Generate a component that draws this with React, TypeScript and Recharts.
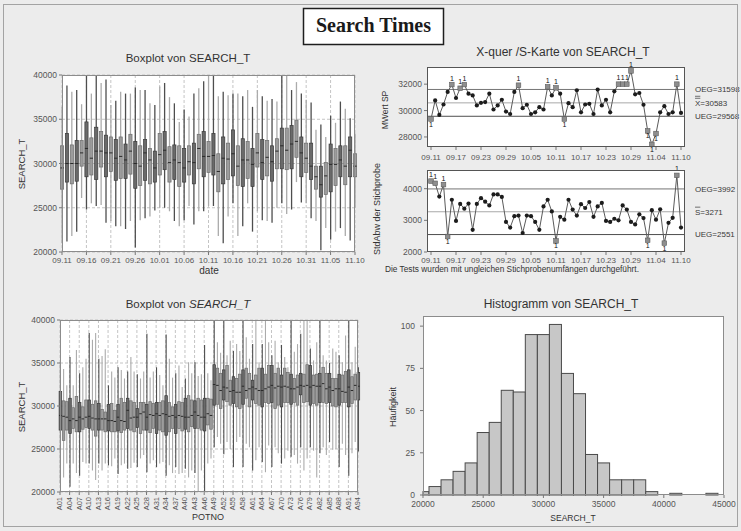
import React from 'react';
import { BarChart, LineChart, Bar, Line, XAxis, YAxis, CartesianGrid, ReferenceLine } from 'recharts';

// ---- day groups (09.11 – 11.10) ----
const dates = [
  '09.11', '09.12', '09.13', '09.14', '09.15', '09.16', '09.17', '09.18', '09.19', '09.20',
  '09.21', '09.22', '09.23', '09.24', '09.25', '09.26', '09.27', '09.28', '09.29', '09.30',
  '10.01', '10.02', '10.03', '10.04', '10.05', '10.06', '10.07', '10.08', '10.09', '10.10',
  '10.11', '10.12', '10.13', '10.14', '10.15', '10.16', '10.17', '10.18', '10.19', '10.20',
  '10.21', '10.22', '10.23', '10.24', '10.25', '10.26', '10.27', '10.28', '10.29', '10.30',
  '10.31', '11.01', '11.02', '11.03', '11.04', '11.05', '11.06', '11.07', '11.08', '11.09',
  '11.10',
];
const dateTicks = [0, 5, 10, 15, 20, 25, 30, 35, 40, 45, 50, 55, 60];

const dayLow = [
  21000, 21200, 21800, 22300, 26100, 24800, 25500, 25200, 25300, 23300,
  23500, 22900, 22900, 22600, 23500, 20500, 23600, 23800, 24000, 24700,
  25000, 25000, 24600, 23500, 22900, 23600, 25200, 23100, 24600, 24600,
  25200, 25200, 21800, 21000, 24000, 25500, 21800, 22900, 25500, 22300,
  24600, 23600, 23500, 23300, 25000, 25500, 24300, 24800, 27900, 25600,
  25500, 23800, 23500, 20200, 22700, 21400, 22300, 22700, 21800, 21300,
  25000,
];
const dayQ1 = [
  27100, 27900, 27700, 28000, 29700, 28500, 28700, 28200, 29600, 28500,
  29100, 28100, 28300, 28300, 28800, 27200, 27500, 28100, 27700, 27900,
  28700, 29300, 27900, 28200, 27400, 27900, 28700, 27700, 29400, 28500,
  29000, 28700, 26800, 27700, 28200, 28600, 27500, 27400, 28300, 27400,
  29600, 28200, 28600, 28000, 29400, 29400, 29300, 29400, 30700, 28500,
  29000, 28200, 27100, 26200, 26500, 26800, 27500, 28500, 27600, 28500,
  28500,
];
const dayMed = [
  29500, 30000, 30000, 30000, 31200, 31700, 30600, 31400, 31400, 31200,
  31200, 30600, 30800, 30400, 31400, 30000, 29700, 31200, 30400, 29500,
  31000, 31500, 30100, 30400, 30100, 29500, 30200, 30100, 31700, 30800,
  30800, 30900, 29100, 30600, 30500, 31100, 29700, 30400, 30400, 29900,
  31200, 30100, 30700, 30200, 31400, 32000, 31500, 32200, 32500, 31200,
  30600, 29700, 28500, 27600, 28600, 29900, 29900, 30400, 29700, 31500,
  29700,
];
const dayQ3 = [
  32000, 33400, 32100, 32600, 32600, 34700, 32900, 34100, 33600, 33200,
  33000, 32700, 33000, 32200, 33300, 32500, 32000, 32700, 31700, 31400,
  33400, 33600, 31900, 32100, 32000, 31700, 32000, 32300, 33300, 33600,
  32500, 33400, 31100, 33000, 32300, 33800, 32000, 32800, 32500, 31700,
  33400, 32700, 32600, 32000, 32800, 34000, 34000, 34300, 34900, 33000,
  32300, 32300, 29700, 29700, 30100, 32200, 31700, 32000, 32000, 33000,
  31100,
];
const dayHigh = [
  36400, 38800, 38100, 38300, 36700, 40000, 37900, 40000, 39100, 39500,
  36600, 37100, 38100, 37900, 37900, 38600, 38300, 38300, 36800, 36600,
  38700, 39100, 37500, 36800, 34700, 36100, 35300, 37900, 38500, 39300,
  40000, 40000, 37600, 38100, 37700, 37900, 37900, 37600, 38300, 36400,
  38300, 37600, 37100, 37300, 37000, 40000, 40000, 38300, 39200, 37900,
  37200, 36900, 33800, 34400, 33000, 35400, 34600, 37000, 36200, 35100,
  33400,
];

// ---- X-bar / S control chart ----
const xbarMeans = [
  29360, 30770, 29670, 30460, 31410, 31970, 30950, 31690, 31970, 31280,
  31150, 30390, 30590, 30640, 31280, 30080, 30390, 30820, 29920, 29740,
  31410, 31920, 30180, 30440, 29740, 29870, 30260, 30080, 31800, 31150,
  31720, 31280, 29360, 30560, 30260, 31540, 29870, 30460, 30510, 29740,
  31590, 30390, 30820, 29870, 31460, 32000, 32000, 32000, 33000, 31230,
  31330, 30440, 28460, 27440, 28260, 29870, 30330, 29740, 29870, 32000,
  29820,
];
const sampleSd = [
  4240, 4170, 3750, 4130, 2490, 3650, 2980, 3520, 3370, 3530,
  2700, 3520, 3700, 3590, 3470, 3820, 3820, 3740, 2950, 2770,
  3130, 3150, 2600, 3150, 3130, 2950, 2700, 3440, 3650, 3280,
  2350, 3110, 3020, 3650, 3340, 3150, 3510, 3390, 3580, 3110,
  3440, 3550, 2980, 2950, 3050, 3000, 3470, 3340, 2950, 2870,
  3190, 3070, 2370, 3320, 3020, 3350, 2280, 2920, 3080, 4420,
  2770,
];
const XBAR_OEG = 31598;
const XBAR_MID = 30583;
const XBAR_UEG = 29568;
const S_OEG = 3992;
const S_MID = 3271;
const S_UEG = 2551;

// ---- POTNO groups ----
const potCodes = [
  'A01', 'A02', 'A03', 'A04', 'A05', 'A06', 'A07', 'A08', 'A09', 'A10',
  'A11', 'A12', 'A13', 'A14', 'A15', 'A16', 'A17', 'A18', 'A19', 'A20',
  'A21', 'A22', 'A23', 'A24', 'A25', 'A26', 'A27', 'A28', 'A29', 'A30',
  'A31', 'A32', 'A33', 'A34', 'A35', 'A36', 'A37', 'A38', 'A39', 'A40',
  'A41', 'A42', 'A43', 'A44', 'A45', 'A46', 'A47', 'A48', 'A49', 'A50',
  'A51', 'A52', 'A53', 'A54', 'A55', 'A56', 'A57', 'A58', 'A59', 'A60',
  'A61', 'A62', 'A63', 'A64', 'A65', 'A66', 'A67', 'A68', 'A69', 'A70',
  'A71', 'A72', 'A73', 'A74', 'A75', 'A76', 'A77', 'A78', 'A79', 'A80',
  'A81', 'A82', 'A83', 'A84', 'A85', 'A86', 'A87', 'A88', 'A89', 'A90',
  'A91', 'A92', 'A93', 'A94',
];
const potTicks = [
  0, 3, 6, 9, 12, 15, 18, 21, 24, 27, 30, 33, 36, 39, 42, 45,
  48, 51, 54, 57, 60, 63, 66, 69, 72, 75, 78, 81, 84, 87, 90, 93,
];
const potLow = [
  21000, 21700, 23300, 20600, 23300, 22200, 21900, 23500, 23300, 23300,
  22500, 21400, 23300, 22500, 23300, 23100, 23000, 23900, 22100, 23100,
  23300, 22700, 22800, 23400, 22900, 23900, 24300, 22300, 23300, 23700,
  22900, 23300, 23500, 21900, 23100, 22200, 22900, 22100, 22200, 22700,
  21700, 22500, 22200, 20000, 22500, 20000, 23300, 23900, 25200, 26400,
  25600, 24400, 25800, 25000, 22900, 25800, 26400, 22900, 25600, 25200,
  22500, 23700, 25200, 23500, 22300, 25400, 22900, 25200, 24500, 23300,
  23900, 24800, 24100, 24300, 23300, 25200, 22500, 23900, 25200, 24800,
  21700, 24500, 25200, 24300, 25800, 24900, 25000, 22900, 25600, 24300,
  21900, 24500, 25800, 24700,
];
const potQ1 = [
  27200, 26000, 27200, 26800, 27400, 27000, 27000, 27300, 27500, 27400,
  27200, 26500, 27200, 27200, 27000, 27100, 27000, 27000, 27100, 26900,
  27200, 27400, 27200, 27000, 27500, 26800, 27200, 27200, 26900, 27400,
  26800, 27200, 27000, 26600, 27000, 27400, 26800, 27400, 27100, 27300,
  27000, 27600, 27400, 27400, 27200, 27100, 27800, 27300, 30100, 30200,
  29700, 30700, 30500, 30100, 30300, 29900, 29700, 30200, 30900, 29900,
  30700, 30300, 30100, 29900, 30400, 30300, 30400, 29700, 30100, 29900,
  30400, 30400, 30200, 30400, 30100, 31300, 30400, 30500, 30100, 30300,
  30100, 30400, 30400, 30300, 30400, 30000, 29900, 30100, 30400, 30400,
  29900, 30300, 30700, 30700,
];
const potMed = [
  28900, 28800, 28700, 28300, 28500, 28300, 28700, 28500, 28700, 28800,
  28600, 28500, 28500, 28500, 28500, 28300, 28300, 28200, 28700, 28300,
  28200, 29500, 28600, 28700, 28700, 29100, 29300, 28700, 29000, 28900,
  29100, 28900, 29100, 29000, 28800, 28900, 28700, 28900, 28800, 28700,
  28700, 28900, 29300, 28900, 28700, 28700, 29100, 28900, 32500, 32400,
  31800, 32200, 32100, 31700, 31800, 31600, 31600, 32300, 31800, 32000,
  32200, 32000, 31800, 31800, 32000, 32200, 32400, 32100, 32300, 32200,
  32300, 32200, 32000, 32000, 32200, 32400, 32300, 32400, 32200, 32400,
  32300, 32300, 32600, 32000, 32200, 31800, 32000, 32000, 31700, 31600,
  32200, 31800, 32400, 32300,
];
const potQ3 = [
  31700, 30600, 30500, 30900, 29800, 31100, 30400, 29900, 30700, 30700,
  30200, 30600, 30300, 29600, 29300, 30200, 30300, 29500, 30200, 30900,
  30400, 30900, 30600, 30400, 29700, 30400, 30400, 30200, 30500, 30300,
  30400, 30400, 30600, 31200, 30400, 29900, 30200, 30500, 30400, 30900,
  31200, 30700, 30600, 30900, 30700, 30900, 30900, 30800, 34800, 34400,
  33800, 34200, 34700, 33000, 33400, 33200, 33700, 34200, 34400, 33800,
  33000, 33600, 34400, 34400, 33700, 34700, 34700, 33800, 34400, 33600,
  34400, 33900, 33700, 33200, 33600, 33800, 33700, 34800, 34700, 33600,
  33700, 33800, 34500, 33800, 33800, 33200, 33200, 33700, 33600, 34000,
  34200, 33400, 33700, 33900,
];
const potHigh = [
  35100, 34300, 32400, 35700, 32400, 36500, 33800, 34500, 35500, 38500,
  37700, 38500, 35500, 35800, 36600, 32400, 34000, 33300, 34500, 34200,
  33200, 34000, 35700, 34000, 33700, 33200, 34000, 38400, 33300, 34000,
  34500, 33600, 32400, 38300, 35500, 33300, 33800, 34700, 32200, 33200,
  35100, 33800, 35100, 33500, 33700, 37100, 33800, 33000, 40000, 37400,
  36200, 40000, 35900, 37600, 36400, 37200, 36400, 40000, 38000, 35500,
  37200, 40000, 35100, 37200, 40000, 37400, 35900, 37600, 35100, 37100,
  35700, 34500, 40000, 36300, 37200, 38400, 40000, 40000, 36700, 35300,
  37400, 40000, 35900, 35300, 35000, 36700, 36300, 35900, 35100, 38200,
  40000, 35100, 36900, 34500,
];

// ---- histogram (bin width 1000) ----
const binMid = [
  20000, 21000, 22000, 23000, 24000, 25000, 26000, 27000, 28000, 29000,
  30000, 31000, 32000, 33000, 34000, 35000, 36000, 37000, 38000, 39000,
  40000, 41000, 42000, 43000, 44000,
];
const binCount = [
  2, 5, 9, 14, 19, 37, 43, 62, 61, 95,
  95, 101, 72, 60, 24, 19, 9, 9, 9, 2,
  0, 1, 0, 0, 1,
];

const FONT = '"Liberation Sans", Arial, Helvetica, sans-serif';
const TICK = { fontSize: 8, fill: '#555' };
const YTICK = { fontSize: 8.5, fill: '#555' };
const TL = { stroke: '#777' };

type BoxRow = { idx: number; name: string; low: number; q1: number; med: number; q3: number; high: number };

const dayRows: BoxRow[] = dates.map((name, idx) => ({
  idx, name, low: dayLow[idx], q1: dayQ1[idx], med: dayMed[idx], q3: dayQ3[idx], high: dayHigh[idx],
}));
const potRows: BoxRow[] = potCodes.map((name, idx) => ({
  idx, name, low: potLow[idx], q1: potQ1[idx], med: potMed[idx], q3: potQ3[idx], high: potHigh[idx],
}));
const spcRows = dates.map((date, i) => ({ date, mean: xbarMeans[i], sd: sampleSd[i] }));
const histRows = binMid.map((mid, i) => ({ mid, count: binCount[i] }));

const boxRange = (r: BoxRow) => [r.low, r.high];

// Bar gets the whisker range (low..high); box and median are placed inside it
function boxShape(boxW: number, whiskerW: number, isDark: (i: number) => boolean) {
  return (props: any) => {
    const { x, y, width, height, payload } = props;
    if (!payload || !(height > 0)) return <g />;
    const { low, q1, med, q3, high, idx } = payload as BoxRow;
    const toY = (v: number) => y + ((high - v) / (high - low)) * height;
    const cx = x + width / 2;
    const dark = isDark(idx);
    const whisker = dark ? '#4e4e4e' : '#ababab';
    const fill = dark ? '#6a6a6a' : '#9c9c9c';
    const edge = dark ? '#3a3a3a' : '#6c6c6c';
    return (
      <g>
        <line x1={cx} x2={cx} y1={y} y2={y + height} stroke={whisker} strokeWidth={whiskerW} />
        <rect x={cx - boxW / 2} y={toY(q3)} width={boxW} height={toY(q1) - toY(q3)}
          fill={fill} stroke={edge} strokeWidth={0.7} />
        <line x1={cx - boxW / 2} x2={cx + boxW / 2} y1={toY(med)} y2={toY(med)} stroke="#2a2a2a" strokeWidth={1} />
      </g>
    );
  };
}

const dayBox = boxShape(3.2, 1.3, (i) => i % 2 === 1);
const potBox = boxShape(2.6, 1.1, (i) => i % 3 === 0);

const PotTick = (props: any) => {
  const { x, y, payload } = props;
  return (
    <g transform={`translate(${x},${y})`}>
      <text transform="rotate(-90)" textAnchor="end" dy="0.32em" fontSize={7.5} fill="#555">
        {potCodes[payload.value]}
      </text>
    </g>
  );
};

function spcDot(upper: number, lower: number) {
  return (props: any) => {
    const { cx, cy, value, index } = props;
    if (cx == null || cy == null) return <g key={`n${index}`} />;
    const above = value > upper;
    const below = value < lower;
    if (above || below) {
      return (
        <g key={`f${index}`}>
          <rect x={cx - 2.3} y={cy - 2.3} width={4.6} height={4.6} fill="#8e8e8e" stroke="#5c5c5c" strokeWidth={0.6} />
          <text x={cx} y={above ? cy - 4 : cy + 7.5} textAnchor="middle" fontSize={7} fill="#111">1</text>
        </g>
      );
    }
    return <circle key={`d${index}`} cx={cx} cy={cy} r={2.1} fill="#1c1c1c" />;
  };
}

const LimitLabel = (props: any) => {
  const { viewBox, text, bars = 0 } = props;
  if (!viewBox) return null;
  const x = viewBox.x + viewBox.width + 10;
  const y = viewBox.y;
  return (
    <g>
      <text x={x} y={y} dy="0.35em" fontSize={8} fill="#3a3a3a">{text}</text>
      {bars > 0 && <line x1={x} x2={x + 5.3} y1={y - 4.6} y2={y - 4.6} stroke="#3a3a3a" strokeWidth={0.7} />}
      {bars > 1 && <line x1={x} x2={x + 5.3} y1={y - 6.6} y2={y - 6.6} stroke="#3a3a3a" strokeWidth={0.7} />}
    </g>
  );
};

const HIST_W = 301;
const binPx = (1000 * HIST_W) / 25000;
const HIST_LEFT = 53;

const HistBar = (props: any) => {
  const { x, width, y, height } = props;
  if (!(height > 0)) return <g />;
  const cx = x + width / 2;
  const left = Math.max(cx - binPx / 2, HIST_LEFT);
  const right = cx + binPx / 2;
  return <rect x={left} y={y} width={right - left} height={height} fill="#c7c7c7" stroke="#4a4a4a" strokeWidth={1} />;
};

const pos = (left: number, top: number): React.CSSProperties => ({ position: 'absolute', left, top });

// plot areas in page coordinates
const frames = [
  { x: 62, y: 75, w: 293, h: 177, c: '#8c8c8c' },
  { x: 427, y: 67, w: 258, h: 80, c: '#555' },
  { x: 427, y: 170, w: 258, h: 82, c: '#555' },
  { x: 60, y: 320, w: 298, h: 172, c: '#8c8c8c' },
  { x: 423, y: 316, w: 301, h: 179, c: '#8c8c8c' },
];

export default function App() {
  return (
    <div style={{ position: 'absolute', left: 0, top: 0, width: 741, height: 531, background: '#ececec', overflow: 'hidden', fontFamily: FONT }}>
      <svg width={741} height={531} style={pos(0, 0)}>
        {frames.map((f, i) => (
          <rect key={i} x={f.x} y={f.y} width={f.w} height={f.h} fill="#fff" />
        ))}
      </svg>

      {/* boxplot by date */}
      <div style={pos(0, 60)}>
        <BarChart width={365} height={215} data={dayRows} margin={{ top: 15, right: 10, bottom: 0, left: 0 }}>
          <CartesianGrid stroke="#c4c4c4" strokeDasharray="3 2" />
          <XAxis type="number" dataKey="idx" domain={[0, 60]} ticks={dateTicks} tickFormatter={(i) => dates[i]}
            height={23} tick={TICK} tickLine={TL} tickSize={3} axisLine={false} interval={0} />
          <YAxis type="number" domain={[20000, 40000]} ticks={[20000, 25000, 30000, 35000, 40000]} width={62}
            tick={YTICK} tickLine={TL} tickSize={3} axisLine={false} />
          <Bar dataKey={boxRange} barSize={3} shape={dayBox} isAnimationActive={false} />
        </BarChart>
      </div>

      {/* X-bar chart */}
      <div style={pos(370, 55)}>
        <LineChart width={371} height={110} data={spcRows} margin={{ top: 12, right: 56, bottom: 0, left: 0 }}>
          <XAxis dataKey="date" interval={5} padding={{ left: 4, right: 4 }} height={18}
            tick={TICK} tickLine={TL} tickSize={3} tickMargin={4} axisLine={false} />
          <YAxis type="number" domain={[27240, 33300]} ticks={[28000, 30000, 32000]} width={57}
            tick={YTICK} tickLine={TL} tickSize={3} axisLine={false} />
          <ReferenceLine y={XBAR_OEG} stroke="#747474" label={<LimitLabel text={`OEG=${XBAR_OEG}`} />} />
          <ReferenceLine y={XBAR_MID} stroke="#a8a8a8" label={<LimitLabel text={`X=${XBAR_MID}`} bars={2} />} />
          <ReferenceLine y={XBAR_UEG} stroke="#4e4e4e" label={<LimitLabel text={`UEG=${XBAR_UEG}`} />} />
          <Line dataKey="mean" stroke="#5a5a5a" strokeWidth={1} dot={spcDot(XBAR_OEG, XBAR_UEG)} isAnimationActive={false} />
        </LineChart>
      </div>

      {/* S chart */}
      <div style={pos(370, 160)}>
        <LineChart width={371} height={110} data={spcRows} margin={{ top: 10, right: 56, bottom: 0, left: 0 }}>
          <XAxis dataKey="date" interval={5} padding={{ left: 4, right: 4 }} height={18}
            tick={TICK} tickLine={TL} tickSize={3} axisLine={false} />
          <YAxis type="number" domain={[2000, 4590]} ticks={[2000, 3000, 4000]} width={57}
            tick={YTICK} tickLine={TL} tickSize={3} axisLine={false} />
          <ReferenceLine y={S_OEG} stroke="#747474" label={<LimitLabel text={`OEG=${S_OEG}`} />} />
          <ReferenceLine y={S_MID} stroke="#a8a8a8" label={<LimitLabel text={`S=${S_MID}`} bars={1} />} />
          <ReferenceLine y={S_UEG} stroke="#4e4e4e" label={<LimitLabel text={`UEG=${S_UEG}`} />} />
          <Line dataKey="sd" stroke="#5a5a5a" strokeWidth={1} dot={spcDot(S_OEG, S_UEG)} isAnimationActive={false} />
        </LineChart>
      </div>

      {/* boxplot by POTNO */}
      <div style={pos(0, 305)}>
        <BarChart width={365} height={210} data={potRows} margin={{ top: 15, right: 7, bottom: 0, left: 0 }}>
          <CartesianGrid stroke="#c4c4c4" strokeDasharray="3 2" />
          <XAxis type="number" dataKey="idx" domain={[0, 93]} ticks={potTicks} interval={0}
            height={23} tick={<PotTick />} tickLine={TL} tickSize={3} axisLine={false} />
          <YAxis type="number" domain={[20000, 40000]} ticks={[20000, 25000, 30000, 35000, 40000]} width={60}
            tick={YTICK} tickLine={TL} tickSize={3} axisLine={false} />
          <Bar dataKey={boxRange} barSize={2} shape={potBox} isAnimationActive={false} />
        </BarChart>
      </div>

      {/* histogram */}
      <div style={pos(370, 300)}>
        <BarChart width={371} height={215} data={histRows} margin={{ top: 16, right: 17, bottom: 0, left: 0 }}>
          <XAxis type="number" dataKey="mid" domain={[20000, 45000]} ticks={[20000, 25000, 30000, 35000, 40000, 45000]}
            interval={0} height={20} tick={YTICK} tickLine={TL} tickSize={3} tickMargin={3} axisLine={false} />
          <YAxis type="number" domain={[0, 106]} ticks={[0, 25, 50, 75, 100]} width={53}
            tick={YTICK} tickLine={TL} tickSize={3} tickMargin={5} axisLine={false} />
          <Bar dataKey="count" barSize={12} shape={HistBar} isAnimationActive={false} />
        </BarChart>
      </div>

      <svg width={741} height={531} style={{ ...pos(0, 0), pointerEvents: 'none' }}>
        <rect x={3.5} y={4.5} width={734} height={522} fill="none" stroke="#a3a3a3" />
        {frames.map((f, i) => (
          <rect key={i} x={f.x + 0.5} y={f.y + 0.5} width={f.w - 1} height={f.h - 1} fill="none" stroke={f.c} />
        ))}

        <rect x={303.5} y={8.5} width={140} height={36} fill="#fff" stroke="#1e1e1e" strokeWidth={1.5} />
        <text x={373.5} y={32} textAnchor="middle" fontFamily='"Liberation Serif", "Times New Roman", serif'
          fontWeight="bold" fontSize={20} fill="#1a1a1a">Search Times</text>

        <g fill="#333" textAnchor="middle">
          <text x={188} y={58} dy="0.35em" fontSize={11.5}>Boxplot von SEARCH_T</text>
          <text x={563} y={52} dy="0.35em" fontSize={12}>X-quer /S-Karte von SEARCH_T</text>
          <text x={188} y={304} dy="0.35em" fontSize={11.5}>
            Boxplot von <tspan fontStyle="italic">SEARCH_T</tspan>
          </text>
          <text x={561} y={304} dy="0.35em" fontSize={12}>Histogramm von SEARCH_T</text>

          <text x={209} y={270} dy="0.35em" fontSize={10}>date</text>
          <text x={208} y={517} dy="0.35em" fontSize={9}>POTNO</text>
          <text x={573} y={518} dy="0.35em" fontSize={8.5}>SEARCH_T</text>

          <text transform="translate(22,164) rotate(-90)" dy="0.35em" fontSize={9.5}>SEARCH_T</text>
          <text transform="translate(22,407) rotate(-90)" dy="0.35em" fontSize={9.5}>SEARCH_T</text>
          <text transform="translate(385,110) rotate(-90)" dy="0.35em" fontSize={8.5}>MWert SP</text>
          <text transform="translate(377,209) rotate(-90)" dy="0.35em" fontSize={9}>StdAbw der Stichprobe</text>
          <text transform="translate(393,407) rotate(-90)" dy="0.35em" fontSize={9}>Häufigkeit</text>
        </g>
        <text x={385} y={269} dy="0.35em" fontSize={8.3} fill="#333">
          Die Tests wurden mit ungleichen Stichprobenumfängen durchgeführt.
        </text>
      </svg>
    </div>
  );
}
